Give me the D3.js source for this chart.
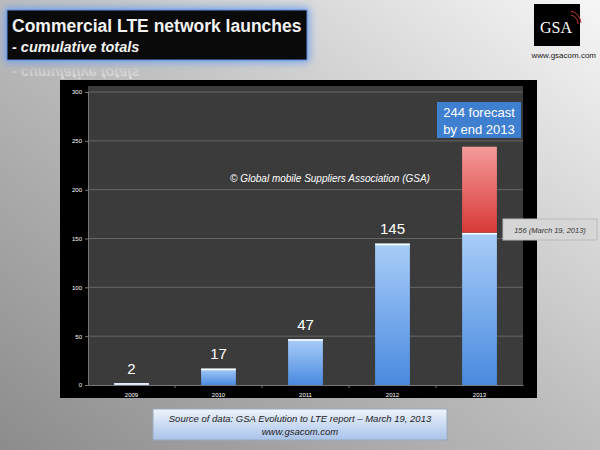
<!DOCTYPE html>
<html><head><meta charset="utf-8">
<script src="https://cdn.jsdelivr.net/npm/d3@7"></script>
<style>body{margin:0}svg{display:block;font-family:"Liberation Sans",Arial,sans-serif}</style>
</head><body><div id="app"></div>
<script>
const years = ['2009', '2010', '2011', '2012', '2013'];
const launched = [2, 17, 47, 145, 156];
const forecast = [0, 0, 0, 0, 88];
const valueLabels = ['2', '17', '47', '145', ''];
const yTicks = [0, 50, 100, 150, 200, 250, 300];

const W = 600, H = 450;
const svg = d3.select('#app').append('svg').attr('width', W).attr('height', H);
const defs = svg.append('defs');

const bg = defs.append('linearGradient').attr('id', 'bg').attr('x1', 1).attr('y1', 0).attr('x2', 0).attr('y2', 1);
bg.append('stop').attr('offset', 0).attr('stop-color', '#f6f6f6');
bg.append('stop').attr('offset', 0.5).attr('stop-color', '#bcbcbc');
bg.append('stop').attr('offset', 1).attr('stop-color', '#8c8c8c');
svg.append('rect').attr('width', W).attr('height', H).attr('fill', 'url(#bg)');

const blueG = defs.append('linearGradient').attr('id', 'blue').attr('x1', 0).attr('y1', 0).attr('x2', 0).attr('y2', 1);
blueG.append('stop').attr('offset', 0).attr('stop-color', '#a8cdf8');
blueG.append('stop').attr('offset', 1).attr('stop-color', '#4a8ae0');
const redG = defs.append('linearGradient').attr('id', 'red').attr('x1', 0).attr('y1', 0).attr('x2', 0).attr('y2', 1);
redG.append('stop').attr('offset', 0).attr('stop-color', '#f49a9a');
redG.append('stop').attr('offset', 1).attr('stop-color', '#d83a38');
const srcG = defs.append('linearGradient').attr('id', 'src').attr('x1', 0).attr('y1', 0).attr('x2', 0).attr('y2', 1);
srcG.append('stop').attr('offset', 0).attr('stop-color', '#eef4fc');
srcG.append('stop').attr('offset', 1).attr('stop-color', '#a9c3ea');
const glow = defs.append('filter').attr('id', 'glow').attr('x', -0.1).attr('y', -0.3).attr('width', 1.2).attr('height', 1.6);
glow.append('feGaussianBlur').attr('stdDeviation', 4);
const fade = defs.append('linearGradient').attr('id', 'fade').attr('x1', 0).attr('y1', 0).attr('x2', 0).attr('y2', 1);
fade.append('stop').attr('offset', 0).attr('stop-color', '#fff').attr('stop-opacity', 0.6);
fade.append('stop').attr('offset', 1).attr('stop-color', '#fff').attr('stop-opacity', 0);

// title
svg.append('rect').attr('x', 5).attr('y', 8).attr('width', 304).attr('height', 54).attr('fill', '#6d9ef0').attr('filter', 'url(#glow)');
svg.append('rect').attr('x', 7).attr('y', 10).attr('width', 300).attr('height', 50).attr('fill', '#0a0a0a').attr('stroke', '#5f8fe0');
svg.append('text').attr('x', 12).attr('y', 32).attr('fill', '#f2f2f2').attr('font-size', 17.5).attr('font-weight', 'bold').text('Commercial LTE network launches');
svg.append('text').attr('x', 12).attr('y', 52).attr('fill', '#f2f2f2').attr('font-size', 14.5).attr('font-weight', 'bold').attr('font-style', 'italic').text('- cumulative totals');
svg.append('text').attr('transform', 'translate(12,68) scale(1,-1)').attr('fill', 'url(#fade)').attr('font-size', 14.5).attr('font-weight', 'bold').attr('font-style', 'italic').text('- cumulative totals');

// logo
svg.append('rect').attr('x', 534).attr('y', 4).attr('width', 46).attr('height', 42).attr('fill', '#000');
svg.append('text').attr('x', 556).attr('y', 33).attr('text-anchor', 'middle').attr('fill', '#fff').attr('font-size', 16).attr('font-family', 'Liberation Serif,serif').text('GSA');
svg.append('path').attr('d', 'M571,15 a9,9 0 0 1 7,9 M571,11 a13,13 0 0 1 10,12').attr('stroke', '#c0392b').attr('fill', 'none').attr('stroke-width', 1);
svg.append('text').attr('x', 596).attr('y', 58).attr('text-anchor', 'end').attr('fill', '#222').attr('font-size', 8).text('www.gsacom.com');

// chart panel
svg.append('rect').attr('x', 60).attr('y', 80).attr('width', 477).attr('height', 318).attr('fill', '#000');
const m = { l: 88, r: 523, t: 86, b: 385 };
svg.append('rect').attr('x', m.l).attr('y', m.t).attr('width', m.r - m.l).attr('height', m.b - m.t).attr('fill', '#3b3b3b');

const x = d3.scaleBand().domain(years).range([m.l, m.r]).paddingInner(0.6).paddingOuter(0.3);
const y = d3.scaleLinear().domain([0, 300]).range([m.b, 92]);

svg.append('g').selectAll('line').data(yTicks.slice(1)).join('line')
  .attr('x1', m.l).attr('x2', m.r).attr('y1', d => y(d)).attr('y2', d => y(d)).attr('stroke', '#666');

const ya = svg.append('g').attr('transform', `translate(${m.l},0)`).call(d3.axisLeft(y).tickValues(yTicks).tickSize(3));
ya.select('.domain').attr('stroke', '#777');
ya.selectAll('line').attr('stroke', '#777');
ya.selectAll('text').attr('fill', '#fff').attr('font-size', 6);

const xa = svg.append('g').attr('transform', `translate(0,${m.b})`).call(d3.axisBottom(x).tickSize(0).tickPadding(8));
xa.select('.domain').attr('stroke', '#777');
xa.selectAll('text').attr('fill', '#fff').attr('font-size', 6);
const step = x.step();
svg.append('g').selectAll('line').data(years.slice(0, -1)).join('line')
  .attr('x1', d => x(d) + x.bandwidth() + (step - x.bandwidth()) / 2)
  .attr('x2', d => x(d) + x.bandwidth() + (step - x.bandwidth()) / 2)
  .attr('y1', m.b).attr('y2', m.b + 3).attr('stroke', '#777');

svg.append('g').selectAll('rect').data(years).join('rect')
  .attr('x', d => x(d)).attr('width', x.bandwidth())
  .attr('y', (d, i) => y(launched[i])).attr('height', (d, i) => y(0) - y(launched[i]))
  .attr('fill', 'url(#blue)');
svg.append('g').selectAll('rect').data(years).join('rect')
  .attr('x', d => x(d)).attr('width', x.bandwidth())
  .attr('y', (d, i) => y(launched[i] + forecast[i])).attr('height', (d, i) => y(launched[i]) - y(launched[i] + forecast[i]))
  .attr('fill', 'url(#red)');
svg.append('g').selectAll('line').data(years).join('line')
  .attr('x1', d => x(d)).attr('x2', d => x(d) + x.bandwidth())
  .attr('y1', (d, i) => y(launched[i]) + 1).attr('y2', (d, i) => y(launched[i]) + 1)
  .attr('stroke', '#fff').attr('stroke-width', 1.5);

svg.append('g').selectAll('text').data(years).join('text')
  .attr('x', d => x(d) + x.bandwidth() / 2).attr('y', (d, i) => y(launched[i]) - 9)
  .attr('text-anchor', 'middle').attr('fill', '#fff').attr('font-size', 15)
  .text((d, i) => valueLabels[i]);

svg.append('text').attr('x', 330).attr('y', 182).attr('text-anchor', 'middle').attr('fill', '#fff').attr('font-size', 10).attr('font-style', 'italic')
  .text('© Global mobile Suppliers Association (GSA)');

// forecast callout
svg.append('rect').attr('x', 437).attr('y', 102).attr('width', 84).attr('height', 36).attr('fill', '#3f7fd0');
svg.append('text').attr('x', 479).attr('y', 117).attr('text-anchor', 'middle').attr('fill', '#fff').attr('font-size', 13).text(`${launched[4] + forecast[4]} forecast`);
svg.append('text').attr('x', 479).attr('y', 134).attr('text-anchor', 'middle').attr('fill', '#fff').attr('font-size', 13).text('by end 2013');

svg.append('rect').attr('x', 503).attr('y', 219).attr('width', 94).attr('height', 21).attr('fill', '#d6d6d6').attr('stroke', '#bbb');
svg.append('text').attr('x', 550).attr('y', 233).attr('text-anchor', 'middle').attr('fill', '#333').attr('font-size', 7.5).attr('font-style', 'italic').text(`${launched[4]} (March 19, 2013)`);

// source box
svg.append('rect').attr('x', 153).attr('y', 409).attr('width', 294).attr('height', 31).attr('fill', 'url(#src)').attr('stroke', '#9ab');
svg.append('text').attr('x', 300).attr('y', 422).attr('text-anchor', 'middle').attr('fill', '#222').attr('font-size', 9.5).attr('font-style', 'italic').text('Source of data: GSA Evolution to LTE report – March 19, 2013');
svg.append('text').attr('x', 300).attr('y', 435).attr('text-anchor', 'middle').attr('fill', '#222').attr('font-size', 9.5).attr('font-style', 'italic').text('www.gsacom.com');
</script></body></html>
